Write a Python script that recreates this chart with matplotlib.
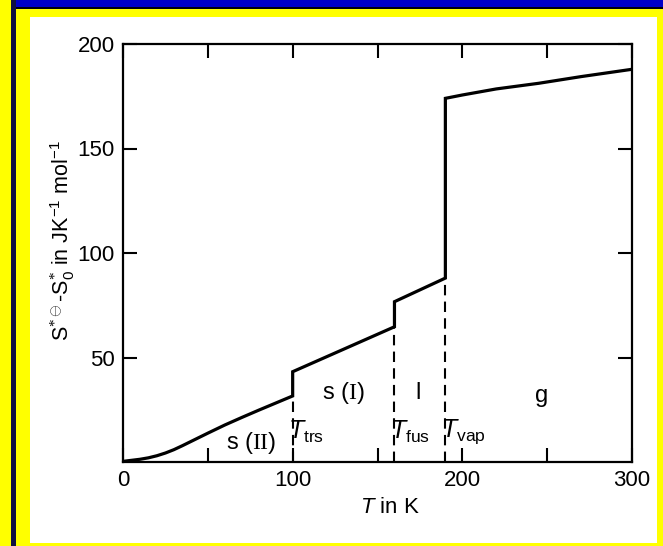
import matplotlib
matplotlib.use("Agg")
import matplotlib.pyplot as plt
from matplotlib.patches import Rectangle

plt.rcParams['font.family'] = ['Liberation Sans', 'DejaVu Sans']
plt.rcParams['mathtext.fontset'] = 'custom'
plt.rcParams['mathtext.rm'] = 'Liberation Serif'
plt.rcParams['mathtext.sf'] = 'Liberation Sans'
plt.rcParams['mathtext.it'] = 'Liberation Sans:italic'

# entropy curve (T in K, S in J/K/mol)
t_s2 = [0, 5, 10, 15, 20, 25, 30, 35, 40, 50, 60, 70, 80, 90, 100]
s_s2 = [0.3, 0.8, 1.3, 2.0, 3.0, 4.3, 5.9, 7.8, 9.8, 13.8, 17.7, 21.3, 24.8, 28.2, 31.6]
t_s1 = [100, 160]
s_s1 = [43.2, 64.7]
t_liq = [160, 190]
s_liq = [76.7, 88.0]
t_gas = [190, 200, 220, 245, 270, 300]
s_gas = [174.0, 175.6, 178.5, 181.2, 184.4, 187.9]

t_trans = [100, 160, 190]
s_below = [31.6, 64.7, 88.0]
trans_labels = ['trs', 'fus', 'vap']

phase_labels = [r's ($\mathrm{II}$)', r's ($\mathrm{I}$)', 'l', 'g']
phase_t = [75.5, 130, 174, 247]
phase_s = [9, 33, 33, 31.5]

W, H = 663, 546
fig = plt.figure(figsize=(W / 100, H / 100), dpi=100)
fig.patch.set_facecolor('#ffff00')


def box(x0, y0, x1, y1, color):
    # pixel box (top-left origin) -> figure fraction
    fig.patches.append(Rectangle((x0 / W, 1 - y1 / H), (x1 - x0) / W, (y1 - y0) / H,
                                 transform=fig.transFigure, facecolor=color,
                                 edgecolor='none', zorder=-10))


box(16, 0, W, 7, '#0000c8')
box(16, 7, W, 9, '#000010')
box(11, 0, 16, H, '#101040')
box(30, 17, 657, 543, 'white')

ax = fig.add_axes([123 / W, 1 - 462 / H, (632 - 123) / W, (462 - 44) / H])
ax.set_facecolor('none')

t_all = t_s2 + t_s1 + t_liq + t_gas
s_all = s_s2 + s_s1 + s_liq + s_gas
ax.plot(t_all, s_all, color='black', lw=2.3, solid_joinstyle='miter', zorder=3)

for t, s, lab in zip(t_trans, s_below, trans_labels):
    ax.plot([t, t], [0, s], color='black', lw=1.5, linestyle=(0, (5, 3)))
    ax.text(t - 2.5, 14.4, r'$T_{\mathsf{' + lab + '}}$', fontsize=18,
            ha='left', va='center')

for lab, t, s in zip(phase_labels, phase_t, phase_s):
    ax.text(t, s, lab, fontsize=17, ha='center', va='center')

ax.set_xlim(0, 300)
ax.set_ylim(0, 200)
ax.set_xticks([0, 100, 200, 300])
ax.set_xticks([50, 150, 250], minor=True)
ax.set_yticks([50, 100, 150, 200])
ax.tick_params(which='both', direction='in', top=True, right=True,
               length=10, width=1.5, labelsize=16, pad=6)
for sp in ax.spines.values():
    sp.set_linewidth(1.6)

ax.text(-0.118, 0.531,
        r'S$^{*\ominus}$-S$_{\mathsf{0}}^{*}$ in JK$^{\mathsf{-1}}$ mol$^{\mathsf{-1}}$',
        transform=ax.transAxes, rotation=90, ha='center', va='center', fontsize=15.5)
ax.text(0.525, -0.11, r'$T$ in K', transform=ax.transAxes,
        ha='center', va='center', fontsize=16)

fig.savefig('out.png', dpi=100)
